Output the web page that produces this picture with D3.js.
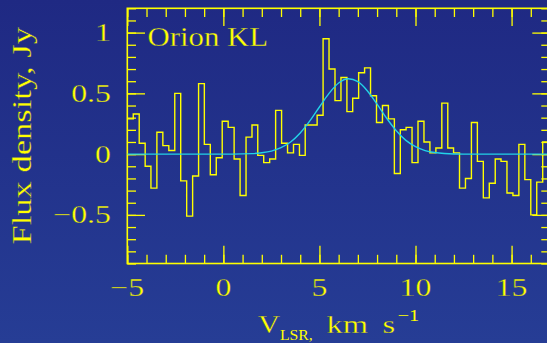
<!DOCTYPE html>
<html>
<head>
<meta charset="utf-8">
<script src="https://cdn.jsdelivr.net/npm/d3@7"></script>
<style>
  html, body { margin: 0; padding: 0; background: #21308a; }
  svg { display: block; }
  text { font-family: "Liberation Serif", "Times New Roman", serif; fill: #ffff00; }
</style>
</head>
<body>
<svg id="chart" width="547" height="343"></svg>
<script>
// channel left edges, km/s
const chanVel = [-5.00, -4.69, -4.38, -4.07, -3.77, -3.46, -3.15, -2.84, -2.53, -2.22,
                 -1.91, -1.60, -1.29, -0.99, -0.68, -0.37, -0.06, 0.25, 0.56, 0.87,
                 1.18, 1.49, 1.79, 2.10, 2.41, 2.72, 3.03, 3.34, 3.65, 3.96,
                 4.26, 4.57, 4.88, 5.19, 5.50, 5.81, 6.12, 6.43, 6.73, 7.04,
                 7.35, 7.66, 7.97, 8.28, 8.59, 8.90, 9.21, 9.51, 9.82, 10.13,
                 10.44, 10.75, 11.06, 11.37, 11.68, 11.98, 12.29, 12.60, 12.91, 13.22,
                 13.53, 13.84, 14.15, 14.45, 14.76, 15.07, 15.38, 15.69, 16.00, 16.31,
                 16.62];
const chanEnd = 16.93;
// flux per channel, Jy
const flux = [0.29, 0.33, 0.09, -0.10, -0.28, 0.18, 0.07, 0.03, 0.50, -0.22,
              -0.51, -0.18, 0.58, 0.08, -0.17, -0.03, 0.27, 0.22, -0.04, -0.34,
              0.14, 0.24, -0.01, -0.07, -0.04, 0.36, 0.09, 0.01, 0.08, -0.01,
              0.24, 0.24, 0.32, 0.95, 0.70, 0.44, 0.63, 0.35, 0.46, 0.67,
              0.71, 0.48, 0.26, 0.40, 0.29, -0.16, 0.20, 0.22, -0.07, 0.27,
              0.10, 0.01, 0.05, 0.42, 0.05, 0.01, -0.28, -0.20, 0.26, -0.06,
              -0.36, -0.24, -0.04, -0.06, -0.32, -0.34, 0.08, -0.21, -0.50, -0.23,
              0.10];

// gaussian fit
const fitVel  = [-5, 0.5, 1.5, 2, 2.5, 3, 3.5, 4, 4.5, 5, 5.5, 6, 6.5, 7, 7.5, 8, 8.5, 9, 9.5, 10, 10.5, 11, 11.5, 12.5, 17];
const fitFlux = [0, 0, 0.004, 0.011, 0.025, 0.053, 0.10, 0.174, 0.273, 0.388, 0.50, 0.585, 0.62, 0.596, 0.52, 0.411, 0.295, 0.192, 0.113, 0.061, 0.029, 0.013, 0.005, 0, 0];

const xMajor = [-5, 0, 5, 10, 15];
const yMajor = [-0.5, 0, 0.5, 1];
const yLabels = ["\u22120.5", "0", "0.5", "1"];
const xLabels = ["\u22125", "0", "5", "10", "15"];

const yellow = "#ffff00";
const cyan = "#22d2e8";
const thin = "#22318b"; // background-coloured outline to thin the glyphs

const svg = d3.select("#chart");

// background
const defs = svg.append("defs");
const grad = defs.append("linearGradient").attr("id", "bg")
    .attr("x1", 0).attr("y1", 0).attr("x2", 0).attr("y2", 1);
grad.append("stop").attr("offset", "0%").attr("stop-color", "#1f2983");
grad.append("stop").attr("offset", "100%").attr("stop-color", "#263d95");
svg.append("rect").attr("width", 547).attr("height", 343).attr("fill", "url(#bg)");

const x = d3.scaleLinear().domain([-5, 17]).range([127.3, 550]);
const y = d3.scaleLinear().domain([-0.9, 1.2]).range([263.5, 8.3]);

defs.append("clipPath").attr("id", "plot")
  .append("rect")
    .attr("x", x(-5)).attr("y", y(1.2))
    .attr("width", x(17) - x(-5)).attr("height", y(-0.9) - y(1.2));

// ticks, all pointing inward
const minorLen = -8.7, majorLen = -17.7;

function ticks(axisFn, scale, values, size, transform) {
    const g = svg.append("g")
        .attr("transform", transform)
        .call(axisFn(scale).tickValues(values).tickSize(size).tickFormat(""));
    g.select(".domain").remove();
    g.selectAll("line").attr("stroke", yellow).attr("stroke-width", 1.3);
    return g;
}

const xMinor = d3.range(-5, 18, 1);
const yMinor = d3.range(-9, 13, 1).map(d => d / 10);

ticks(d3.axisBottom, x, xMinor, minorLen, `translate(0,${y(-0.9)})`);
ticks(d3.axisBottom, x, xMajor, majorLen, `translate(0,${y(-0.9)})`);
ticks(d3.axisTop, x, xMinor, minorLen, `translate(0,${y(1.2)})`);
ticks(d3.axisTop, x, xMajor, majorLen, `translate(0,${y(1.2)})`);
ticks(d3.axisLeft, y, yMinor, minorLen, `translate(${x(-5)},0)`);
ticks(d3.axisLeft, y, yMajor, majorLen, `translate(${x(-5)},0)`);
ticks(d3.axisRight, y, yMinor, minorLen, `translate(${x(17)},0)`);
ticks(d3.axisRight, y, yMajor, majorLen, `translate(${x(17)},0)`);

// frame
svg.append("rect")
    .attr("x", x(-5)).attr("y", y(1.2))
    .attr("width", x(17) - x(-5)).attr("height", y(-0.9) - y(1.2))
    .attr("fill", "none").attr("stroke", yellow).attr("stroke-width", 1.6);

// tick labels (stretched to mimic the wide plotting font)
svg.append("g").selectAll("g")
  .data(xMajor)
  .join("g")
    .attr("transform", (d, i) => `translate(${x(d)},296) scale(1.3,1)`)
  .append("text")
    .attr("class", "big")
    .attr("text-anchor", "middle")
    .attr("font-size", 24.5)
    .text((d, i) => xLabels[i]);

svg.append("g").selectAll("g")
  .data(yMajor)
  .join("g")
    .attr("transform", d => `translate(111,${y(d) + 8.6}) scale(1.3,1)`)
  .append("text")
    .attr("class", "big")
    .attr("text-anchor", "end")
    .attr("font-size", 24.5)
    .text((d, i) => yLabels[i]);

// spectrum
const plot = svg.append("g").attr("clip-path", "url(#plot)");

const steps = chanVel.map((v, i) => [v, flux[i]]);
steps.push([chanEnd, flux[flux.length - 1]]);

plot.append("path")
    .attr("d", d3.line().x(d => x(d[0])).y(d => y(d[1])).curve(d3.curveStepAfter)(steps))
    .attr("fill", "none")
    .attr("stroke", yellow)
    .attr("stroke-width", 1.4);

plot.append("path")
    .attr("d", d3.line().x((d, i) => x(d)).y((d, i) => y(fitFlux[i])).curve(d3.curveMonotoneX)(fitVel))
    .attr("fill", "none")
    .attr("stroke", cyan)
    .attr("stroke-width", 1.4);

// source name
svg.append("g")
    .attr("transform", "translate(147.5,45.7) scale(1.14,1)")
  .append("text")
    .attr("class", "big")
    .attr("font-size", 27)
    .text("Orion KL");

// y title
svg.append("g")
    .attr("transform", "translate(30.5,135.8) rotate(-90) scale(1.28,1)")
  .append("text")
    .attr("class", "big")
    .attr("text-anchor", "middle")
    .attr("font-size", 27)
    .text("Flux density, Jy");

// x title
const xt = svg.append("g");
xt.append("g").attr("transform", "translate(258,333) scale(1.17,1)")
  .append("text").attr("class", "big").attr("font-size", 26).text("V");
xt.append("g").attr("transform", "translate(280,340) scale(1.05,1)")
  .append("text").attr("font-size", 15).text("LSR,");
xt.append("g").attr("transform", "translate(326.5,333) scale(1.25,1)")
  .append("text").attr("class", "big").attr("font-size", 26).text("km");
xt.append("g").attr("transform", "translate(382.5,333) scale(1.25,1)")
  .append("text").attr("class", "big").attr("font-size", 26).text("s");
xt.append("g").attr("transform", "translate(397.5,320.5) scale(1.2,1)")
  .append("text").attr("font-size", 17).text("\u22121");

svg.selectAll("text.big")
    .attr("stroke", thin)
    .attr("stroke-width", 0.3);
</script>
</body>
</html>
